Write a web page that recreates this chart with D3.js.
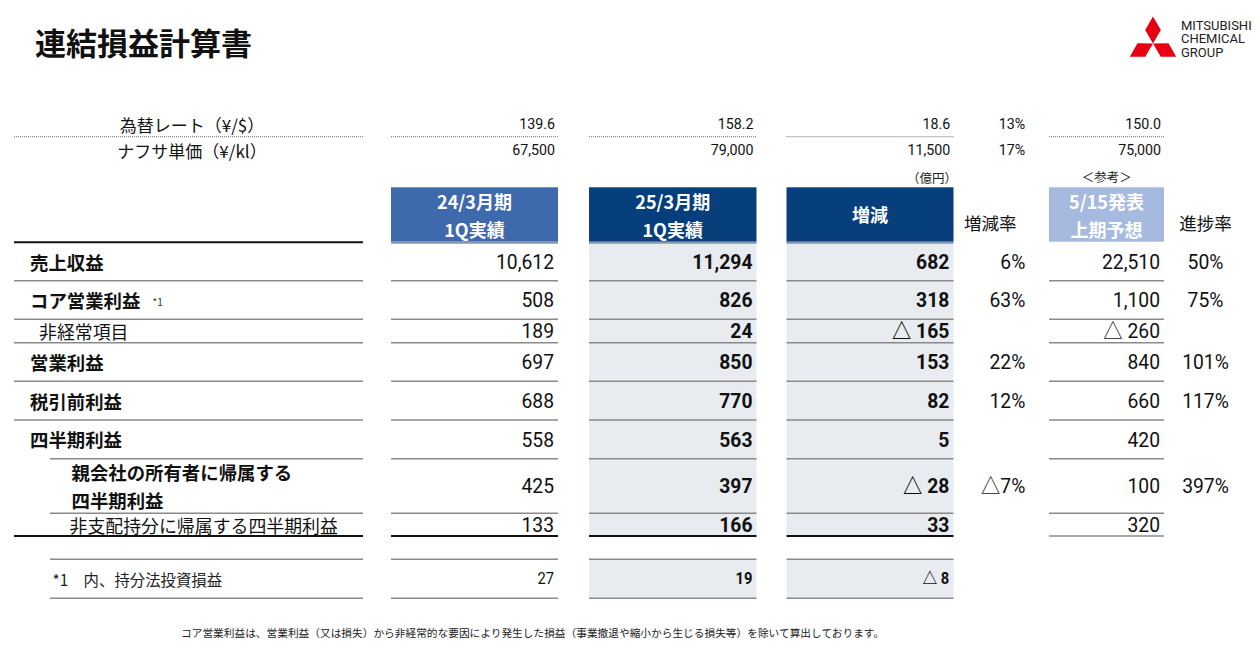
<!DOCTYPE html>
<html><head><meta charset="utf-8">
<script src="https://cdn.jsdelivr.net/npm/d3@7"></script>
<style>
html,body{margin:0;padding:0;background:#fff;}
svg{display:block;}
</style></head><body>
<svg id="c" width="1260" height="670"></svg>
<script>
// ---------- DATA ----------
const title = "連結損益計算書";
const footnote = "コア営業利益は、営業利益（又は損失）から非経常的な要因により発生した損益（事業撤退や縮小から生じる損失等）を除いて算出しております。";
const logoLines = ["MITSUBISHI", "CHEMICAL", "GROUP"];

const headerFy24 = ["24/3月期", "1Q実績"];
const headerFy25 = ["25/3月期", "1Q実績"];
const headerChange = ["増減"];
const headerRate = "増減率";
const headerFcst = ["5/15発表", "上期予想"];
const headerFcstNote = "＜参考＞";
const headerProg = "進捗率";
const unitLabel = "（億円）";

const macroLabels = ["為替レート（¥/$）", "ナフサ単価（¥/kl）"];
const fxRate = [139.6, 158.2, 18.6, 150.0];
const fxChangeRate = 13;
const naphthaPrice = [67500, 79000, 11500, 75000];
const naphthaChangeRate = 17;

const rowLabels = ["売上収益", "コア営業利益", "非経常項目", "営業利益", "税引前利益",
  "四半期利益", "親会社の所有者に帰属する\n四半期利益", "非支配持分に帰属する四半期利益"];
const fy24Q1 = [10612, 508, 189, 697, 688, 558, 425, 133];
const fy25Q1 = [11294, 826, 24, 850, 770, 563, 397, 166];
const changeAmt = [682, 318, -165, 153, 82, 5, -28, 33];
const changeRate = [6, 63, null, 22, 12, null, -7, null];
const forecastH1 = [22510, 1100, -260, 840, 660, 420, 100, 320];
const progressRate = [50, 75, null, 101, 117, null, 397, null];

const equityLabel = "*1　内、持分法投資損益";
const equityValues = [27, 19, -8]; // fy24, fy25, change

// ---------- LAYOUT / STYLE ----------
const svg = d3.select("#c");
const JP = "'Noto Sans CJK JP', 'Noto Sans', sans-serif";
const NUM = "Roboto, 'Noto Sans CJK JP', sans-serif";
const SX = 0.92;

const colSpan = d3.scaleOrdinal()
  .domain(["label", "fy24", "fy25", "chg", "fcst"])
  .range([[14, 363], [391, 558], [589, 756.5], [786.5, 953.5], [1049, 1164]]);
const valRight = d3.scaleOrdinal()
  .domain(["fy24", "fy25", "chg", "rate", "fcst"])
  .range([554, 752.5, 949.3, 1025.3, 1160]);
const progCenter = 1205.5;

const rowHeights = [38.4, 38.6, 23.4, 38.6, 38.7, 38.7, 54.6, 22.7];
const tableTop = 242.3;
const rowTops = [tableTop].concat(Array.from(d3.cumsum(rowHeights), v => tableTop + v));
const rowY = d3.scaleOrdinal().domain(d3.range(rowLabels.length + 1)).range(rowTops);
const rowCenter = i => (rowY(i) + rowY(i + 1)) / 2;
const labelX = [30, 30, 39, 30, 30, 30, 71.5, 69.5];
const labelBold = [true, true, false, true, true, true, true, false];
const lineStartX = [14, 14, 14, 14, 14, 50, 50, 14];
const fnTop = 559.3, fnBot = 598.3;

const fmt = v => v == null ? "" : (v < 0 ? "△ " + d3.format(",")(-v) : d3.format(",")(v));
const fmtPct = v => v == null ? "" : (v < 0 ? "△" + (-v) + "%" : v + "%");

function numText(x, y, str, size, bold, anchor) {
  const g = svg.append("g").attr("transform", `translate(${x},${y})`);
  g.append("text")
    .attr("transform", `scale(${SX},1)`)
    .attr("text-anchor", anchor || "end")
    .attr("dominant-baseline", "central")
    .attr("font-family", NUM)
    .attr("font-size", size)
    .attr("font-weight", bold ? 700 : 400)
    .attr("fill", "#111")
    .attr("xml:space", "preserve")
    .text(str);
}
function jpText(x, y, str, size, bold, anchor, fill) {
  return svg.append("text")
    .attr("x", x).attr("y", y)
    .attr("text-anchor", anchor || "start")
    .attr("dominant-baseline", "central")
    .attr("font-family", JP)
    .attr("font-size", size)
    .attr("font-weight", bold ? 700 : 400)
    .attr("fill", fill || "#111")
    .text(str);
}
function hline(x1, x2, y, color, w, dash) {
  const l = svg.append("line").attr("x1", x1).attr("x2", x2).attr("y1", y).attr("y2", y)
    .attr("stroke", color).attr("stroke-width", w);
  if (dash) l.attr("stroke-dasharray", dash);
}

// ---------- TITLE & LOGO ----------
jpText(35, 41, title, 31, true, "start", "#111");

const C = [1153, 43.4], L = 26.8, S = 15.6;
[[0, -1], [0.866, 0.5], [-0.866, 0.5]].forEach(d => {
  const p = [-d[1], d[0]];
  const pts = [
    C,
    [C[0] + d[0] * L / 2 + p[0] * S / 2, C[1] + d[1] * L / 2 + p[1] * S / 2],
    [C[0] + d[0] * L, C[1] + d[1] * L],
    [C[0] + d[0] * L / 2 - p[0] * S / 2, C[1] + d[1] * L / 2 - p[1] * S / 2]
  ];
  svg.append("path").attr("d", d3.line()(pts) + "Z").attr("fill", "#E60012");
});
logoLines.forEach((t, i) => {
  svg.append("text").attr("x", 1181).attr("y", 25 + i * 13.6)
    .attr("dominant-baseline", "central")
    .attr("font-family", "Roboto, sans-serif").attr("font-size", 13)
    .attr("fill", "#222").text(t);
});

// ---------- MACRO ROWS ----------
const macroY = [124, 150];
jpText(192, macroY[0], macroLabels[0], 17, false, "middle");
jpText(192, macroY[1], macroLabels[1], 17, false, "middle");
["fy24", "fy25", "chg", "fcst"].forEach((k, i) => {
  numText(valRight(k) + 1, macroY[0], d3.format(".1f")(fxRate[i]), 15.5, false);
  numText(valRight(k) + 1, macroY[1], d3.format(",")(naphthaPrice[i]), 15.5, false);
});
numText(valRight("rate"), macroY[0], fxChangeRate + "%", 15.5, false);
numText(valRight("rate"), macroY[1], naphthaChangeRate + "%", 15.5, false);
["label", "fy24", "fy25", "chg", "fcst"].forEach(k => {
  const [a, b] = colSpan(k);
  hline(a, b, 136.7, "#8a8a8a", 1.2, "1,1");
});

jpText(957, 177.3, unitLabel, 12.5, false, "end", "#222");
jpText(1106.7, 176.7, headerFcstNote, 12.5, false, "middle", "#222");

// ---------- HEADER BOXES ----------
const boxTop = 187.3, boxBot = 241.7;
const boxes = [
  ["fy24", headerFy24, "#3E69AD"],
  ["fy25", headerFy25, "#063F7C"],
  ["chg", headerChange, "#063F7C"],
  ["fcst", headerFcst, "#A6BAE0"]
];
boxes.forEach(([k, lines, col]) => {
  const [a, b] = colSpan(k);
  svg.append("rect").attr("x", a).attr("y", boxTop).attr("width", b - a).attr("height", boxBot - boxTop).attr("fill", col);
  const cx = (a + b) / 2;
  if (lines.length === 2) {
    jpText(cx, 200.6, lines[0], 18, true, "middle", "#fff");
    jpText(cx, 229, lines[1], 18, true, "middle", "#fff");
  } else {
    jpText(cx, 214.3, lines[0], 18, true, "middle", "#fff");
  }
});
jpText(990.3, 222.3, headerRate, 17.5, false, "middle");
jpText(progCenter, 222.3, headerProg, 17.5, false, "middle");

// ---------- BACKGROUNDS ----------
["fy25", "chg"].forEach(k => {
  const [a, b] = colSpan(k);
  svg.append("rect").attr("x", a).attr("y", tableTop).attr("width", b - a)
    .attr("height", rowY(rowLabels.length) - tableTop).attr("fill", "#E8EBEF");
  svg.append("rect").attr("x", a).attr("y", fnTop).attr("width", b - a)
    .attr("height", fnBot - fnTop).attr("fill", "#E8EBEF");
});

// ---------- TABLE LINES ----------
hline(14, 363, tableTop, "#111", 2);
["fy24", "fy25", "chg"].forEach(k => {
  const [a, b] = colSpan(k);
  hline(a, b, tableTop + 0.6, "#8797AE", 1.6);
});
rowLabels.forEach((_, i) => {
  const y = rowY(i + 1);
  const last = i === rowLabels.length - 1;
  ["label", "fy24", "fy25", "chg", "fcst"].forEach(k => {
    const [a, b] = colSpan(k);
    const x1 = k === "label" ? lineStartX[i] : a;
    if (last && k !== "fcst") hline(x1, b, y, "#111", 1.8);
    else hline(x1, b, y, "#8a8a8a", 1.4);
  });
});
["label", "fy24", "fy25", "chg"].forEach(k => {
  const [a, b] = colSpan(k);
  const x1 = k === "label" ? 50 : a;
  hline(x1, b, fnTop, "#8a8a8a", 1.4);
  hline(x1, b, fnBot, "#8a8a8a", 1.4);
});

// ---------- ROW LABELS ----------
rowLabels.forEach((lab, i) => {
  const cy = rowCenter(i);
  const parts = lab.split("\n");
  const size = labelBold[i] ? 18.4 : 17.9;
  if (parts.length === 2) {
    jpText(labelX[i], cy - 14.2, parts[0], size, labelBold[i]);
    jpText(labelX[i], cy + 14.2, parts[1], size, labelBold[i]);
  } else {
    jpText(labelX[i], cy, parts[0], size, labelBold[i]);
  }
});
jpText(152.5, rowCenter(1) + 1.5, "*1", 10, false, "start", "#333");

// ---------- VALUES ----------
rowLabels.forEach((_, i) => {
  const cy = rowCenter(i);
  numText(valRight("fy24"), cy, fmt(fy24Q1[i]), 21, false);
  numText(valRight("fy25"), cy, fmt(fy25Q1[i]), 21, true);
  numText(valRight("chg"), cy, fmt(changeAmt[i]), 21, true);
  numText(valRight("rate"), cy, fmtPct(changeRate[i]), 21, false);
  numText(valRight("fcst"), cy, fmt(forecastH1[i]), 21, false);
  numText(progCenter, cy, progressRate[i] == null ? "" : progressRate[i] + "%", 21, false, "middle");
});

// ---------- EQUITY-METHOD ROW ----------
const fnY = (fnTop + fnBot) / 2;
jpText(52.5, fnY, equityLabel, 15.4, false, "start", "#222");
numText(valRight("fy24"), fnY, fmt(equityValues[0]), 16, false);
numText(valRight("fy25"), fnY, fmt(equityValues[1]), 16, true);
numText(valRight("chg"), fnY, fmt(equityValues[2]), 16, true);

// ---------- FOOTNOTE ----------
jpText(181, 632, footnote, 10.7, false, "start", "#222");
</script>
</body></html>
